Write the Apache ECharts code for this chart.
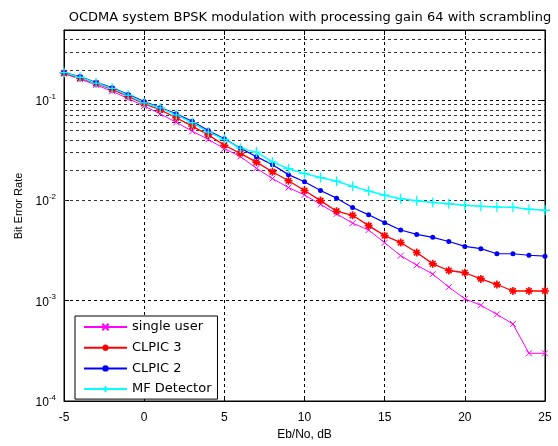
<!DOCTYPE html>
<html>
<head>
<meta charset="utf-8">
<script src="https://cdn.jsdelivr.net/npm/echarts@6/dist/echarts.min.js"></script>
<style>html,body{margin:0;padding:0;background:#fff;}#c{width:558px;height:446px;}</style>
</head>
<body>
<div id="c"></div>
<script>
const ebno = [-5,-4,-3,-2,-1,0,1,2,3,4,5,6,7,8,9,10,11,12,13,14,15,16,17,18,19,20,21,22,23,24,25];
const singleUser = [0.1836,0.1623,0.1417,0.1225,0.1035,0.0874,0.0730,0.0600,0.0490,0.0406,0.0328,0.0274,0.0209,0.01652,0.01343,0.01134,0.00914,0.00734,0.00593,0.00507,0.00378,0.00281,0.00226,0.00184,0.001367,0.001044,0.0009,0.000731,0.000586,0.000299,0.000299];
const clpic3 = [0.186,0.166,0.1466,0.128,0.109,0.0924,0.0798,0.0667,0.0551,0.0450,0.0355,0.0294,0.0241,0.0193,0.0157,0.01255,0.00995,0.0078,0.0071,0.0056,0.00445,0.0038,0.00302,0.00233,0.0020,0.0019,0.00165,0.00145,0.00125,0.00125,0.00125];
const clpic2 = [0.188,0.172,0.150,0.133,0.114,0.0967,0.0845,0.073,0.0614,0.0498,0.0411,0.0332,0.0273,0.02263,0.01807,0.01533,0.01253,0.01053,0.0085,0.00718,0.0060,0.00507,0.00458,0.00428,0.00389,0.00348,0.0033,0.00294,0.00294,0.00284,0.00278];
const mfDetector = [0.188,0.169,0.148,0.131,0.112,0.094,0.0835,0.0713,0.0595,0.0479,0.0406,0.0332,0.0303,0.0242,0.0207,0.0185,0.0169,0.01555,0.0138,0.0124,0.01127,0.01037,0.0099,0.00955,0.00926,0.00893,0.00873,0.0086,0.00854,0.00817,0.00798];
const seriesNames = ['single user','CLPIC 3','CLPIC 2','MF Detector'];
const minorGridValues = [2e-4,3e-4,4e-4,5e-4,6e-4,7e-4,8e-4,9e-4,2e-3,3e-3,4e-3,5e-3,6e-3,7e-3,8e-3,9e-3,2e-2,3e-2,4e-2,5e-2,6e-2,7e-2,8e-2,9e-2,0.2,0.3,0.4];

const FONT = 'Liberation Sans';
const WFONT = 'DejaVu Sans';
const pair = (ys) => ebno.map((x,i)=>[x, ys[i]]);
const P_X = 'path://M0,0L10,10M10,0L0,10';
const P_STAR = 'path://M5,0L5,10M0,5L10,5M1.5,1.5L8.5,8.5M8.5,1.5L1.5,8.5';
const P_PLUS = 'path://M5,0L5,10M0,5L10,5';

const chart = echarts.init(document.getElementById('c'), null, {renderer:'canvas'});
function mk(name, ys, color, symbol, size, lw, bw){
  return {
    name, type:'line', data: pair(ys), symbol, symbolSize:size, z:5,
    lineStyle:{color, width:lw}, itemStyle:{color, borderColor:color, borderWidth:bw},
    animation:false
  };
}
const gridLine = {show:true, lineStyle:{color:'#000', type:[3,3], width:1}};
const tick = {inside:true, length:5, lineStyle:{color:'#000'}};
chart.setOption({
  animation:false,
  backgroundColor:'#fff',
  title:{text:'OCDMA system BPSK modulation with processing gain 64 with scrambling', left:305, textAlign:'center', top:6,
    textStyle:{fontFamily:WFONT, fontSize:13, fontWeight:'normal', color:'#000'}},
  grid:{left:64, right:13, top:30, bottom:39, show:true, borderColor:'#000', borderWidth:1, backgroundColor:'#fff'},
  xAxis:[{type:'value', min:-5, max:25, interval:5, name:'Eb/No, dB', nameLocation:'middle', nameGap:28,
    nameTextStyle:{fontFamily:FONT, fontSize:12, color:'#000'},
    axisLine:{onZero:false, lineStyle:{color:'#000'}}, axisTick:tick,
    axisLabel:{fontFamily:FONT, fontSize:12, color:'#000', margin:11},
    splitLine:gridLine},
    {type:'value', position:'top', min:-5, max:25, interval:5,
    axisLine:{onZero:false, lineStyle:{color:'#000'}}, axisTick:tick, axisLabel:{show:false}, splitLine:{show:false}}],
  yAxis:[{type:'log', logBase:10, min:1e-4, max:0.5, interval:1,
    axisLine:{onZero:false, lineStyle:{color:'#000'}}, axisTick:tick,
    axisLabel:{fontFamily:FONT, color:'#000', margin:8,
      formatter:(v)=>{const l=Math.log10(v); const e=Math.round(l); if(Math.abs(l-e)>1e-6) return ''; return '{b|10}{s|'+e+'}';},
      rich:{b:{fontFamily:FONT, fontSize:12, color:'#000', verticalAlign:'bottom'}, s:{fontFamily:FONT, fontSize:8, color:'#000', verticalAlign:'bottom', padding:[0,0,7,0]}}},
    splitLine:gridLine},
    {type:'log', logBase:10, min:1e-4, max:0.5, interval:1, position:'right',
    axisLine:{onZero:false, lineStyle:{color:'#000'}}, axisTick:tick, axisLabel:{show:false}, splitLine:{show:false}}],
  legend:{data:seriesNames, orient:'vertical', left:75, top:316, itemWidth:43, itemHeight:8, itemGap:6.7,
    padding:[4,6,3,8], backgroundColor:'#fff', borderColor:'#000', borderWidth:1, borderRadius:0,
    textStyle:{fontFamily:WFONT, fontSize:13, lineHeight:14, color:'#000'}},
  graphic:[{type:'text', x:19, y:206, rotation:Math.PI/2, style:{text:'Bit Error Rate', fontFamily:FONT, fontSize:11, fill:'#000', align:'center', verticalAlign:'middle'}}],
  series:[
    {name:'grid-minor', type:'line', data:[], z:1, silent:true,
      markLine:{silent:true, symbol:['none','none'], label:{show:false}, animation:false,
        lineStyle:{color:'#333', type:[3,3], width:1},
        data: minorGridValues.map(v=>({yAxis:v}))}},
    mk(seriesNames[0], singleUser, '#ff00ff', P_X, 6, 1, 1),
    mk(seriesNames[1], clpic3, '#ff0000', P_STAR, 8, 1.3, 1.6),
    mk(seriesNames[2], clpic2, '#0000ff', 'circle', 5, 1.2, 0),
    mk(seriesNames[3], mfDetector, '#00ffff', P_PLUS, 10, 1.5, 1.3)
  ]
});
</script>
</body>
</html>
